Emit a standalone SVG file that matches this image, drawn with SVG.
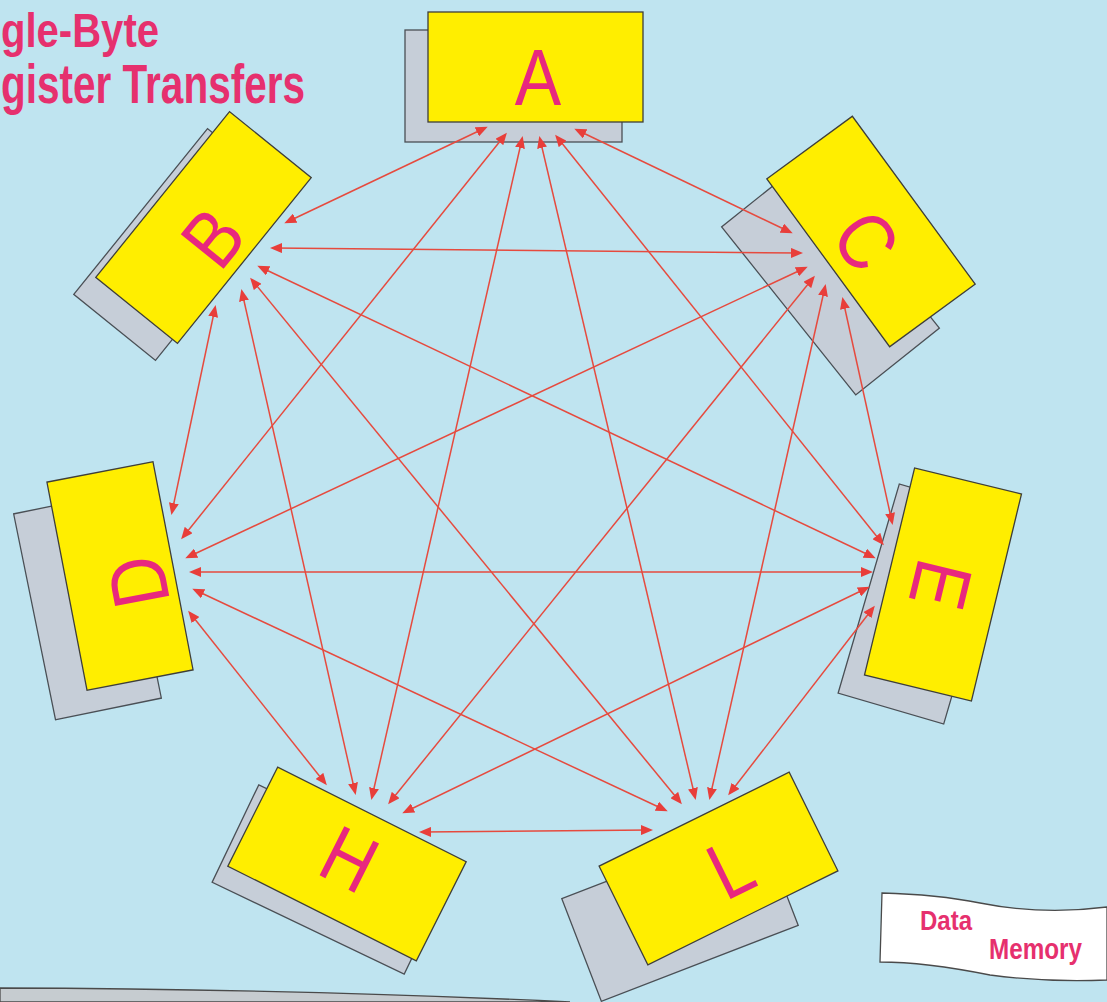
<svg xmlns="http://www.w3.org/2000/svg" width="1107" height="1002" viewBox="0 0 1107 1002">
<style>
.sh{fill:#c6ced8;stroke:#4a4f55;stroke-width:1.3}
.bx{fill:#ffee00;stroke:#3e3e3a;stroke-width:1.3}
.lt{font-family:"Liberation Sans",Arial,sans-serif;font-size:80px;fill:#e8287e;text-anchor:middle}
.ttl{font-family:"Liberation Sans Narrow","Liberation Sans",Arial,sans-serif;font-weight:bold;fill:#e6306e}
.cn line{stroke:#e64a3e;stroke-width:1.5;fill:none;marker-start:url(#ah);marker-end:url(#ah)}
</style>
<defs>
<marker id="ah" viewBox="0 0 12 10" refX="9" refY="5" markerWidth="12" markerHeight="10" markerUnits="userSpaceOnUse" orient="auto-start-reverse">
<path d="M0,0 L12,5 L0,10 Z" fill="#e83e3a"/>
</marker>
</defs>
<rect x="0" y="0" width="1107" height="1002" fill="#bfe4f0"/>
<path d="M0,988 Q300,989 570,1002 L0,1002 Z" fill="#c6ccd0" stroke="#4a4a4a" stroke-width="1.3"/>

<g id="title">
<text class="ttl" x="1" y="47" font-size="48" textLength="158" lengthAdjust="spacingAndGlyphs">gle-Byte</text>
<text class="ttl" x="1" y="103" font-size="55" textLength="304" lengthAdjust="spacingAndGlyphs">gister Transfers</text>
</g>

<g id="node-A">
<rect class="sh" x="-108.5" y="-56" width="217" height="112" transform="translate(513.5,86)"/>
<rect class="bx" x="-107.5" y="-55" width="215" height="110" transform="translate(535.5,67)"/>
<text class="lt" transform="translate(538,76) scale(0.87,1)" y="29">A</text>
</g>
<g id="node-B">
<rect class="sh" x="-106.5" y="-52.5" width="213" height="105" transform="translate(181.5,244.5) rotate(-51.1)"/>
<rect class="bx" x="-106.5" y="-52.5" width="213" height="105" transform="translate(203.5,227.5) rotate(-51.1)"/>
<text class="lt" transform="translate(212,237) rotate(-51.1) scale(0.87,1)" y="29">B</text>
</g>
<g id="node-C">
<rect class="sh" x="-107.5" y="-53.5" width="215" height="107" transform="translate(830.5,277.5) rotate(51.4)"/>
<rect class="bx" x="-104" y="-53" width="208" height="106" transform="translate(871,231.5) rotate(53.8)"/>
<text class="lt" transform="translate(867,240) rotate(53.8) scale(0.87,1)" y="29">C</text>
</g>
<g id="node-D">
<rect class="sh" x="-105" y="-54" width="210" height="108" transform="translate(87.5,606) rotate(-101.5)"/>
<rect class="bx" x="-106" y="-54" width="212" height="108" transform="translate(120,576) rotate(-100.9)"/>
<text class="lt" transform="translate(137,582) rotate(-100.9) scale(0.87,1)" y="29">D</text>
</g>
<g id="node-E">
<rect class="sh" x="-109" y="-55" width="218" height="110" transform="translate(921.5,604) rotate(106.3)"/>
<rect class="bx" x="-106.5" y="-55" width="213" height="110" transform="translate(943,584.5) rotate(103.6)"/>
<text class="lt" transform="translate(942,585) rotate(103.6) scale(0.87,1)" y="29">E</text>
</g>
<g id="node-H">
<rect class="sh" x="-106.5" y="-54" width="213" height="108" transform="translate(331.5,879.5) rotate(25.6)"/>
<rect class="bx" x="-105.5" y="-55.5" width="211" height="111" transform="translate(347,864) rotate(26.7)"/>
<text class="lt" transform="translate(350,858) rotate(26.7) scale(0.87,1)" y="29">H</text>
</g>
<g id="node-L">
<rect class="sh" x="-105.5" y="-55" width="211" height="110" transform="translate(680,912) rotate(-21.1)"/>
<rect class="bx" x="-106" y="-55" width="212" height="110" transform="translate(718.5,868.5) rotate(-26.3)"/>
<text class="lt" transform="translate(730,867) rotate(-26.3) scale(0.87,1)" y="29">L</text>
</g>

<g id="connectors" class="cn">
<line x1="485" y1="128" x2="287" y2="222"/>
<line x1="505" y1="135" x2="183" y2="537"/>
<line x1="522" y1="139" x2="372" y2="797"/>
<line x1="540" y1="139" x2="695" y2="797"/>
<line x1="557" y1="137" x2="882" y2="543"/>
<line x1="577" y1="130" x2="790" y2="232"/>
<line x1="273" y1="248" x2="800" y2="253"/>
<line x1="260" y1="267" x2="873" y2="557"/>
<line x1="252" y1="280" x2="680" y2="802"/>
<line x1="242" y1="292" x2="355" y2="792"/>
<line x1="215" y1="308" x2="172" y2="512"/>
<line x1="805" y1="268" x2="188" y2="557"/>
<line x1="813" y1="278" x2="390" y2="802"/>
<line x1="825" y1="287" x2="710" y2="797"/>
<line x1="843" y1="300" x2="892" y2="522"/>
<line x1="192" y1="572" x2="870" y2="572"/>
<line x1="195" y1="590" x2="665" y2="810"/>
<line x1="190" y1="613" x2="325" y2="783"/>
<line x1="867" y1="588" x2="405" y2="812"/>
<line x1="873" y1="608" x2="730" y2="793"/>
<line x1="422" y1="832" x2="650" y2="830"/>
</g>

<g id="data-memory">
<path d="M882,893 C920,894 950,897 980,903 C1020,911 1060,913 1107,907 L1107,980 C1060,982 1020,979 990,975 C950,967 910,962 880,962 Z" fill="#ffffff" stroke="#4a4a4a" stroke-width="1.3"/>
<text class="ttl" x="920" y="930" font-size="27" textLength="52" lengthAdjust="spacingAndGlyphs">Data</text>
<text class="ttl" x="989" y="959" font-size="29" textLength="93" lengthAdjust="spacingAndGlyphs">Memory</text>
</g>
</svg>
